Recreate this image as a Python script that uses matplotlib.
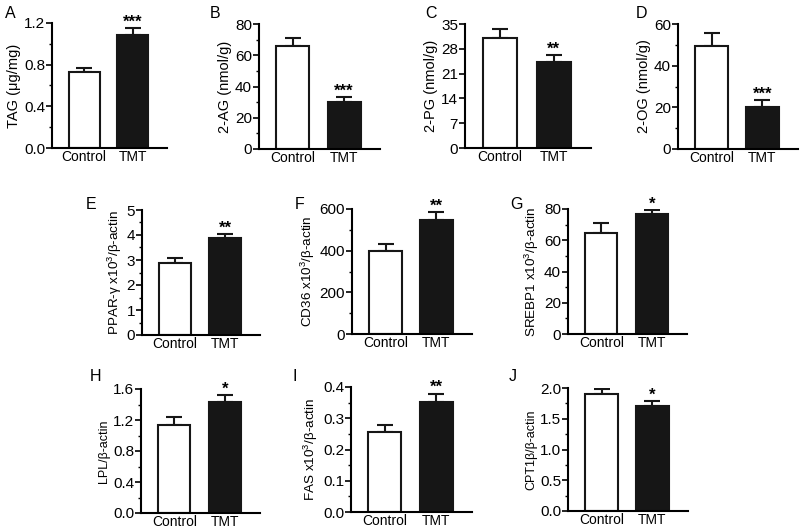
import matplotlib
matplotlib.use("Agg")
import matplotlib.pyplot as plt
from matplotlib.ticker import MultipleLocator

plt.rcParams['font.family'] = ['Liberation Sans', 'DejaVu Sans']
plt.rcParams['mathtext.fontset'] = 'custom'
plt.rcParams['mathtext.rm'] = 'Liberation Sans'
plt.rcParams['mathtext.it'] = 'Liberation Sans'

groups = ["Control", "TMT"]

labels = ["A", "B", "C", "D", "E", "F", "G", "H", "I", "J"]
ylabels = ["TAG (μg/mg)", "2-AG (nmol/g)", "2-PG (nmol/g)", "2-OG (nmol/g)",
           "PPAR-γ x10$^3$/β-actin", "CD36 x10$^3$/β-actin", "SREBP1 x10$^3$/β-actin",
           "LPL/β-actin", "FAS x10$^3$/β-actin", "CPT1β/β-actin"]
means = [[0.73, 1.085], [66, 30], [31.0, 24.3], [49.4, 20.2],
         [2.88, 3.88], [398, 547], [64.6, 76.8],
         [1.135, 1.43], [0.256, 0.352], [1.90, 1.71]]
errs = [[0.04, 0.065], [5, 3.3], [2.6, 1.9], [6.3, 3.3],
        [0.2, 0.16], [34, 39], [6.4, 2.6],
        [0.1, 0.09], [0.022, 0.026], [0.08, 0.08]]
stars = ["***", "***", "**", "***", "**", "**", "*", "*", "**", "*"]
ymax = [1.2, 80, 35, 60, 5, 600, 80, 1.6, 0.4, 2.0]
major = [0.4, 20, 7, 20, 1, 200, 20, 0.4, 0.1, 0.5]
minor = [0.2, 10, 7, 10, 0.5, 100, 10, 0.2, 0.05, 0.25]
ylabel_size = [10.5, 10.5, 10.5, 10.5, 9.7, 9.7, 9.7, 9, 9.7, 9]

# pixel boxes: x0, x1, ytop, ybottom
boxes = [(52, 167, 23, 148), (259, 380, 24, 149), (465, 591, 24, 148), (678, 798, 24, 149),
         (142, 260, 210, 335), (352, 472, 209, 334), (568, 687, 209, 334),
         (141, 260, 389, 513), (351, 472, 387, 512), (568, 688, 388, 511)]
letter_pos = [(5, 6), (210, 6), (425, 6), (636, 6),
              (86, 197), (295, 197), (510, 197),
              (90, 369), (293, 369), (509, 369)]

W, H = 800, 529
fig = plt.figure(figsize=(W / 100, H / 100), dpi=100)

for i in range(10):
    x0, x1, yt, yb = boxes[i]
    ax = fig.add_axes([x0 / W, 1 - yb / H, (x1 - x0) / W, (yb - yt) / H])
    xs = [0, 1]
    ax.bar(xs, means[i], width=0.64, color=["white", "#161616"],
           edgecolor="#161616", linewidth=1.5, zorder=2)
    ax.errorbar(xs, means[i], yerr=[[0, 0], errs[i]], fmt="none",
                ecolor="#161616", elinewidth=1.5, capsize=6, capthick=1.5, zorder=1)
    top = means[i][1] + errs[i][1]
    ax.annotate(stars[i], (1, top), xytext=(0, -1), textcoords="offset points",
                ha="center", va="bottom", fontsize=12, fontweight="bold")
    ax.set_xlim(-0.66, 1.7)
    ax.set_ylim(0, ymax[i])
    ax.yaxis.set_major_locator(MultipleLocator(major[i]))
    ax.yaxis.set_minor_locator(MultipleLocator(minor[i]))
    ax.set_xticks(xs)
    ax.set_xticklabels(groups, fontsize=10)
    ax.tick_params(axis="x", length=0, pad=1.5)
    ax.tick_params(axis="y", which="major", length=4, width=1.2, labelsize=11, pad=1)
    ax.tick_params(axis="y", which="minor", length=2.5, width=1.0)
    for s in ["top", "right"]:
        ax.spines[s].set_visible(False)
    for s in ["left", "bottom"]:
        ax.spines[s].set_linewidth(1.5)
    ax.set_ylabel(ylabels[i], fontsize=ylabel_size[i], labelpad=2)
    lx, ly = letter_pos[i]
    fig.text(lx / W, 1 - ly / H, labels[i], fontsize=11.5, ha="left", va="top")

fig.savefig("out.png", dpi=100)
